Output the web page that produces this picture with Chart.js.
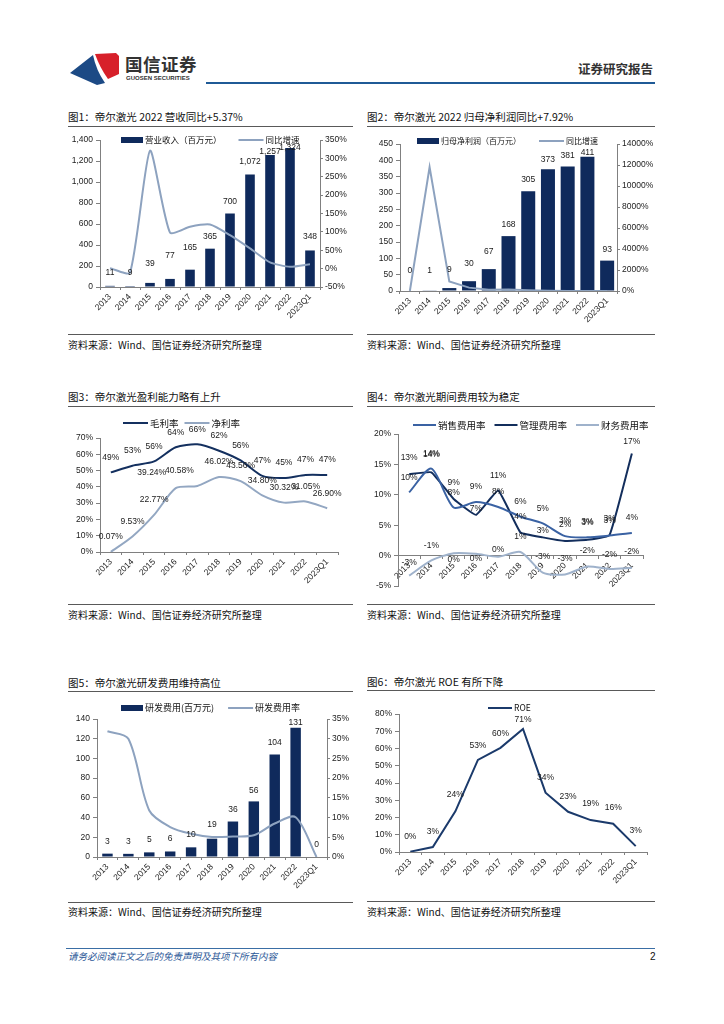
<!DOCTYPE html>
<html><head><meta charset="utf-8">
<script src="https://cdn.jsdelivr.net/npm/chart.js@4.4.1/dist/chart.umd.min.js"></script>
<style>
html,body{margin:0;padding:0;background:#fff;}
body{width:724px;height:1024px;position:relative;overflow:hidden;font-family:"Noto Sans CJK SC","Liberation Sans",sans-serif;color:#111;}
.t{position:absolute;white-space:nowrap;line-height:1;}
.ttl{font-size:10.5px;color:#111;}
.src{font-size:10px;color:#111;}
.rule{position:absolute;height:1px;background:#595959;}
canvas{position:absolute;}
</style></head><body>
<svg style="position:absolute;left:0;top:0" width="724" height="100">
 <path d="M70,73 L93,55 Q96,70 105,83 L97,85 Z" fill="#1c4a85"/>
 <path d="M95,54 L116,53 L119,56 L119,74 L108,79 Q100,68 95,54 Z" fill="#d7202a"/>
</svg>
<div class="t" style="left:125px;top:55px;font-size:17.5px;font-weight:bold;color:#333;letter-spacing:0.5px">国信证券</div>
<div class="t" style="left:126px;top:74.5px;font-size:6px;font-weight:bold;color:#333;font-family:'Liberation Sans',sans-serif">GUOSEN SECURITIES</div>
<div style="position:absolute;left:206px;top:82px;width:449px;height:2px;background:#1f5a96"></div>
<div class="t" style="left:578px;top:63px;font-size:12.5px;font-weight:bold;color:#333">证券研究报告</div>

<div class="t ttl" style="left:68px;top:112px">图1：帝尔激光 2022 营收同比+5.37%</div>
<div class="rule" style="left:68px;top:126px;width:285px"></div>
<div class="t ttl" style="left:367px;top:112px">图2：帝尔激光 2022 归母净利润同比+7.92%</div>
<div class="rule" style="left:367px;top:126px;width:288px"></div>
<div class="rule" style="left:68px;top:334px;width:285px"></div>
<div class="t src" style="left:68px;top:340px">资料来源：Wind、国信证券经济研究所整理</div>
<div class="rule" style="left:367px;top:334px;width:288px"></div>
<div class="t src" style="left:367px;top:340px">资料来源：Wind、国信证券经济研究所整理</div>

<div class="t ttl" style="left:68px;top:392px">图3：帝尔激光盈利能力略有上升</div>
<div class="rule" style="left:68px;top:406px;width:285px"></div>
<div class="t ttl" style="left:367px;top:392px">图4：帝尔激光期间费用较为稳定</div>
<div class="rule" style="left:367px;top:406px;width:288px"></div>
<div class="rule" style="left:68px;top:604px;width:285px"></div>
<div class="t src" style="left:68px;top:610px">资料来源：Wind、国信证券经济研究所整理</div>
<div class="rule" style="left:367px;top:604px;width:288px"></div>
<div class="t src" style="left:367px;top:610px">资料来源：Wind、国信证券经济研究所整理</div>

<div class="t ttl" style="left:68px;top:678px">图5：帝尔激光研发费用维持高位</div>
<div class="rule" style="left:68px;top:691px;width:285px"></div>
<div class="t ttl" style="left:367px;top:677px">图6：帝尔激光 ROE 有所下降</div>
<div class="rule" style="left:367px;top:690px;width:288px"></div>
<div class="rule" style="left:68px;top:902px;width:285px"></div>
<div class="t src" style="left:68px;top:907px">资料来源：Wind、国信证券经济研究所整理</div>
<div class="rule" style="left:367px;top:901px;width:288px"></div>
<div class="t src" style="left:367px;top:907px">资料来源：Wind、国信证券经济研究所整理</div>

<div style="position:absolute;left:66px;top:948px;width:589px;height:1px;background:#3a6ea5"></div>
<div class="t" style="left:68px;top:952px;font-size:9.5px;font-style:italic;color:#2b5797">请务必阅读正文之后的免责声明及其项下所有内容</div>
<div class="t" style="left:650px;top:952px;font-size:10px;color:#111;font-family:'Liberation Sans',sans-serif">2</div>

<canvas id="c1" width="296" height="205" style="left:62px;top:125px;width:296px;height:205px"></canvas>
<canvas id="c2" width="300" height="205" style="left:360px;top:125px;width:300px;height:205px"></canvas>
<canvas id="c3" width="296" height="190" style="left:62px;top:410px;width:296px;height:190px"></canvas>
<canvas id="c4" width="300" height="190" style="left:360px;top:410px;width:300px;height:190px"></canvas>
<canvas id="c5" width="296" height="205" style="left:62px;top:695px;width:296px;height:205px"></canvas>
<canvas id="c6" width="300" height="205" style="left:360px;top:695px;width:300px;height:205px"></canvas>

<script>
// ---------------- data ----------------
const categories = ['2013','2014','2015','2016','2017','2018','2019','2020','2021','2022','2023Q1'];
const revenue = [11, 9, 39, 77, 165, 365, 700, 1072, 1257, 1324, 348];
const revenueYoY = [1, -11, 321, 98, 114, 120, 91, 55, 17, 5, 12];
const netProfit = [0, 1, 9, 30, 67, 168, 305, 373, 381, 411, 93];
const netProfitYoY = [0, 11800, 900, 320, 130, 150, 80, 22, 2, 8, 5];
const grossMargin = [48.9, 53.0, 55.6, 64.3, 66.1, 62.2, 56.2, 46.7, 45.4, 47.3, 47.3];
const netMargin = [0.07, 9.53, 22.77, 39.24, 40.58, 46.02, 43.56, 34.80, 30.32, 31.05, 26.90];
const sellingRate = [10.4, 14.3, 7.9, 8.8, 8.0, 6.4, 5.3, 3.2, 3.0, 3.3, 3.7];
const adminRate = [13.4, 13.7, 9.3, 6.7, 10.7, 3.8, 3.0, 2.4, 2.6, 3.4, 16.8];
const financeRate = [-3.3, -0.8, 0.4, 0.3, -0.2, 0.6, -2.8, -3.1, -1.8, -2.2, -2.0];
const rdExpense = [3.4, 3.2, 4.7, 5.6, 9.8, 18.6, 36.0, 56.4, 104, 131, 0];
const rdRate = [31.9, 30.0, 11.8, 7.6, 5.9, 5.1, 5.2, 5.5, 8.5, 10.1, 0];
const roe = [0.2, 2.9, 23.6, 53.4, 60.4, 71.3, 34.4, 23.3, 18.5, 16.4, 3.4];

// ---------------- styling helpers ----------------
const FONT = '"Liberation Sans","Noto Sans CJK SC",sans-serif';
const CJK = '"Noto Sans CJK SC","Liberation Sans",sans-serif';
const AX = '#808080';
const NAVY = '#0f2a5c';
const LIGHT = '#8da2bf';

const fmtInt = v => String(Math.round(v));
const fmtThousand = v => Math.round(v).toLocaleString('en-US');
const fmtPct0 = v => String(Math.round(v)) + '%';
const fmtPct2 = v => v.toFixed(2) + '%';

function yAxis(o) {
  const right = o.pos === 'right';
  return {
    position: o.pos || 'left',
    min: o.min, max: o.max,
    grid: {display: true, drawOnChartArea: false, drawTicks: true, tickLength: right ? 3 : 4, color: AX},
    border: {display: true, color: AX},
    ticks: {stepSize: o.step, font: {size: 8.5, family: FONT}, color: '#222', padding: right ? 2 : 3, callback: o.fmt},
    afterFit: s => { s.width = o.w; }
  };
}
function xAxis(h, extra) {
  const a = {
    type: 'category', offset: true,
    grid: {display: true, drawOnChartArea: false, drawTicks: true, tickLength: 3, color: AX, offset: true},
    border: {display: true, color: AX},
    ticks: {minRotation: 45, maxRotation: 45, autoSkip: false, font: {size: 8.5, family: FONT}, color: '#222', padding: 2}
  };
  if (h) a.afterFit = s => { s.height = h; };
  return Object.assign(a, extra || {});
}

const legendPlugin = {
  id: 'sheetLegend',
  afterDraw(chart, args, o) {
    if (o.x == null) return;
    const ctx = chart.ctx;
    ctx.save();
    ctx.font = (o.size || 9) + 'px ' + CJK;
    ctx.textBaseline = 'middle';
    ctx.textAlign = 'left';
    let x = o.x;
    const y = o.y;
    chart.data.datasets.forEach(ds => {
      const isBar = (ds.type || chart.config.type) === 'bar';
      const sw = o.sw || 24;
      if (isBar) {
        ctx.fillStyle = ds.backgroundColor;
        ctx.fillRect(x, y - 3, o.bw || 22, 6);
        x += (o.bw || 22) + 2;
      } else {
        ctx.strokeStyle = ds.borderColor;
        ctx.lineWidth = 2;
        ctx.beginPath(); ctx.moveTo(x, y); ctx.lineTo(x + sw, y); ctx.stroke();
        x += sw + 2;
      }
      ctx.fillStyle = '#111';
      ctx.fillText(ds.label, x, y);
      x += ctx.measureText(ds.label).width + (o.gap || 16);
    });
    ctx.restore();
  }
};

const labelPlugin = {
  id: 'valueLabels',
  afterDatasetsDraw(chart, args, o) {
    const ctx = chart.ctx;
    (o.sets || []).forEach(s => {
      const meta = chart.getDatasetMeta(s.index);
      const data = chart.data.datasets[s.index].data;
      ctx.save();
      ctx.font = '8.5px ' + FONT;
      ctx.fillStyle = '#1a1a1a';
      ctx.textAlign = 'center';
      ctx.textBaseline = 'middle';
      meta.data.forEach((el, i) => {
        const off = Array.isArray(s.off) ? s.off[i] : s.off;
        const dx = s.dx ? (s.dx[i] || 0) : 0;
        ctx.fillText(s.fmt(data[i]), el.x + dx, el.y - off);
      });
      ctx.restore();
    });
  }
};

function base(padding, legend, labels) {
  return {
    responsive: false, animation: false,
    layout: {padding: padding},
    plugins: {legend: {display: false}, tooltip: {enabled: false}, sheetLegend: legend, valueLabels: labels},
    elements: {point: {radius: 0}}
  };
}
function mk(id, cfg) {
  cfg.plugins = [legendPlugin, labelPlugin];
  return new Chart(document.getElementById(id).getContext('2d'), cfg);
}

// ---------------- Chart 1 ----------------
(function(){
  const o = base({top: 15, left: 0, right: 0, bottom: 0},
    {x: 121 - 62, y: 140 - 125, size: 8.5, gap: 17, sw: 25},
    {sets: [{index: 0, fmt: fmtThousand, off: [13, 13, 19.6, 23, 22, 12, 12, 12.7, 3.5, 0.7, 13.8]}]});
  o.scales = {
    x: xAxis(43),
    y: yAxis({min: 0, max: 1400, step: 200, w: 38, fmt: v => v.toLocaleString('en-US')}),
    y1: yAxis({pos: 'right', min: -50, max: 350, step: 50, w: 38, fmt: v => v + '%'})
  };
  mk('c1', {type: 'bar', data: {labels: categories, datasets: [
    {label: '营业收入（百万元）', data: revenue, backgroundColor: NAVY, barPercentage: 0.48, categoryPercentage: 1, yAxisID: 'y', order: 1},
    {type: 'line', label: '同比增速', data: revenueYoY, borderColor: LIGHT, borderWidth: 2, tension: 0.2, pointRadius: 0, yAxisID: 'y1', order: 0}
  ]}, options: o});
})();

// ---------------- Chart 2 ----------------
(function(){
  const o = base({top: 19, left: 0, right: 0, bottom: 0},
    {x: 417 - 360, y: 141 - 125, size: 8, gap: 18, sw: 25},
    {sets: [{index: 0, fmt: fmtInt, off: [20, 20, 18, 18, 17, 11, 11.5, 9.5, 11, 4, 10.5]}]});
  o.scales = {
    x: xAxis(39),
    y: yAxis({min: 0, max: 450, step: 50, w: 40, fmt: v => String(v)}),
    y1: yAxis({pos: 'right', min: 0, max: 14000, step: 2000, w: 43, fmt: v => v + '%'})
  };
  mk('c2', {type: 'bar', data: {labels: categories, datasets: [
    {label: '归母净利润（百万元）', data: netProfit, backgroundColor: NAVY, barPercentage: 0.71, categoryPercentage: 1, yAxisID: 'y', order: 1},
    {type: 'line', label: '同比增速', data: netProfitYoY, borderColor: LIGHT, borderWidth: 2, tension: 0, pointRadius: 0, yAxisID: 'y1', order: 0}
  ]}, options: o});
})();

// ---------------- Chart 3 ----------------
(function(){
  const o = base({top: 28, left: 0, right: 20, bottom: 0},
    {x: 123 - 62, y: 423 - 410, size: 9.5, gap: 6, sw: 25},
    {sets: [
      {index: 0, fmt: fmtPct0, off: 15},
      {index: 1, fmt: fmtPct2, off: 15, dx: [0, 0, 0, -24, -18, 0, 0, 0, 0, 0, 0]}
    ]});
  o.scales = {
    x: xAxis(48),
    y: yAxis({min: 0, max: 70, step: 10, w: 38, fmt: v => v + '%'})
  };
  mk('c3', {type: 'line', data: {labels: categories, datasets: [
    {label: '毛利率', data: grossMargin, borderColor: '#14305f', borderWidth: 2, tension: 0.25, pointRadius: 0},
    {label: '净利率', data: netMargin, borderColor: '#93a7c2', borderWidth: 2, tension: 0.25, pointRadius: 0}
  ]}, options: o});
})();

// ---------------- Chart 4 ----------------
(function(){
  const o = base({top: 24, left: 0, right: 17, bottom: 14},
    {x: 413 - 360, y: 425 - 410, size: 9.5, gap: 9, sw: 23},
    {sets: [
      {index: 0, fmt: fmtPct0, off: 15},
      {index: 1, fmt: fmtPct0, off: [16, 18, 16, 6, 15, 15.5, 7, 16, 18, 16, 12]},
      {index: 2, fmt: fmtPct0, off: [13, 15, -6, -5, 7, 15, 16, 15.6, 15.7, 14, 16]}
    ]});
  o.scales = {
    x: xAxis(0, {position: {y: 0}}),
    y: yAxis({min: -5, max: 20, step: 5, w: 38, fmt: v => v + '%'})
  };
  mk('c4', {type: 'line', data: {labels: categories, datasets: [
    {label: '销售费用率', data: sellingRate, borderColor: '#3a62a3', borderWidth: 2, tension: 0.25, pointRadius: 0},
    {label: '管理费用率', data: adminRate, borderColor: '#132e5c', borderWidth: 2, tension: 0.1, pointRadius: 0},
    {label: '财务费用率', data: financeRate, borderColor: '#9fb2cb', borderWidth: 2, tension: 0.25, pointRadius: 0}
  ]}, options: o});
})();

// ---------------- Chart 5 ----------------
(function(){
  const o = base({top: 24, left: 0, right: 0, bottom: 0},
    {x: 121 - 62, y: 708 - 695, size: 9, gap: 14, sw: 25},
    {sets: [{index: 0, fmt: fmtInt, off: [12, 12, 13, 13, 13, 13.7, 11.5, 10.7, 11.8, 5.6, 12]}]});
  o.scales = {
    x: xAxis(43),
    y: yAxis({min: 0, max: 140, step: 20, w: 35, fmt: v => String(v)}),
    y1: yAxis({pos: 'right', min: 0, max: 35, step: 5, w: 31, fmt: v => v + '%'})
  };
  mk('c5', {type: 'bar', data: {labels: categories, datasets: [
    {label: '研发费用(百万元)', data: rdExpense, backgroundColor: NAVY, barPercentage: 0.5, categoryPercentage: 1, yAxisID: 'y', order: 1},
    {type: 'line', label: '研发费用率', data: rdRate, borderColor: LIGHT, borderWidth: 2, tension: 0.3, pointRadius: 0, yAxisID: 'y1', order: 0}
  ]}, options: o});
})();

// ---------------- Chart 6 ----------------
(function(){
  const o = base({top: 19, left: 0, right: 13, bottom: 0},
    {x: 488 - 360, y: 708 - 695, size: 8.5, gap: 10, sw: 24},
    {sets: [{index: 0, fmt: fmtPct0, off: [15, 15, 17, 14, 14, 9, 15, 15, 16, 16, 15]}]});
  o.scales = {
    x: xAxis(48),
    y: yAxis({min: 0, max: 80, step: 10, w: 39, fmt: v => v + '%'})
  };
  mk('c6', {type: 'line', data: {labels: categories, datasets: [
    {label: 'ROE', data: roe, borderColor: '#1b3a6b', borderWidth: 2, tension: 0, pointRadius: 0}
  ]}, options: o});
})();
</script>
</body></html>
